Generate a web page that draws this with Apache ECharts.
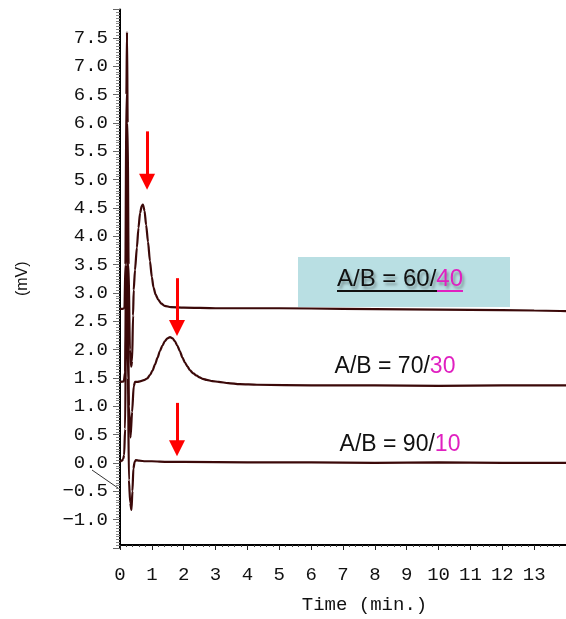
<!DOCTYPE html>
<html>
<head>
<meta charset="utf-8">
<script src="https://cdn.jsdelivr.net/npm/echarts@6/dist/echarts.min.js"></script>
<style>
html,body{margin:0;padding:0;background:#fff;}
#chart{width:566px;height:619px;}
</style>
</head>
<body>
<div id="chart"></div>
<script>
// ---- Data (time in min, signal in mV) ----
var tTop = [0, 0.08, 0.14, 0.17, 0.20, 0.22, 0.24, 0.27, 0.31, 0.35, 0.38, 0.41, 0.43, 0.47, 0.53, 0.58, 0.63, 0.68, 0.72, 0.77, 0.82, 0.88, 0.94, 1.00, 1.05, 1.12, 1.20, 1.30, 1.40, 1.60, 2.0, 3.0, 5.0, 7.0, 9.0, 11.0, 13.0, 14.0];
var vTop = [2.72, 2.72, 2.73, 3.5, 6.5, 7.6, 6.0, 3.5, 2.0, 1.7, 1.8, 2.6, 3.05, 3.4, 3.8, 4.15, 4.41, 4.53, 4.56, 4.45, 4.2, 3.9, 3.56, 3.28, 3.1, 2.97, 2.88, 2.81, 2.77, 2.75, 2.74, 2.73, 2.73, 2.72, 2.71, 2.70, 2.69, 2.68];

var tMid = [0, 0.12, 0.16, 0.19, 0.22, 0.25, 0.28, 0.33, 0.38, 0.43, 0.47, 0.55, 0.63, 0.75, 0.85, 0.94, 1.02, 1.10, 1.18, 1.25, 1.33, 1.41, 1.49, 1.57, 1.65, 1.72, 1.80, 1.88, 1.96, 2.04, 2.12, 2.19, 2.30, 2.41, 2.50, 2.60, 2.72, 2.90, 3.10, 3.40, 3.76, 4.3, 6.0, 8.0, 10.0, 12.0, 14.0];
var vMid = [1.43, 1.44, 1.6, 3.5, 5.2, 3.0, 1.0, 0.45, 0.9, 1.35, 1.43, 1.43, 1.44, 1.46, 1.49, 1.55, 1.63, 1.74, 1.86, 1.97, 2.07, 2.15, 2.20, 2.22, 2.20, 2.15, 2.07, 1.97, 1.86, 1.77, 1.70, 1.64, 1.58, 1.54, 1.51, 1.485, 1.465, 1.445, 1.43, 1.41, 1.39, 1.38, 1.37, 1.37, 1.36, 1.37, 1.37];

var tBot = [0, 0.06, 0.10, 0.13, 0.16, 0.19, 0.22, 0.25, 0.28, 0.32, 0.36, 0.39, 0.42, 0.46, 0.50, 0.60, 0.80, 1.0, 1.5, 2.0, 4.0, 6.0, 8.0, 10.0, 12.0, 14.0];
var vBot = [0.02, 0.04, 0.07, 0.14, 0.6, 2.5, 3.4, 1.5, -0.3, -0.7, -0.83, -0.5, -0.1, 0.02, 0.05, 0.04, 0.03, 0.03, 0.02, 0.02, 0.01, 0.01, 0.0, 0.01, 0.0, 0.0];

// Red arrows: [time, fromValue, toValue]
var arrowT = [0.85, 1.79, 1.79];
var arrowFrom = [5.85, 3.26, 1.06];
var arrowTo = [4.96, 2.38, 0.26];

var xTickLabels = ['0','1','2','3','4','5','6','7','8','9','10','11','12','13'];

function zip(t, v) { return t.map(function (x, i) { return [x, v[i]]; }); }

var chart = echarts.init(document.getElementById('chart'));
var lineColor = '#3b0909';
var mono = '"Liberation Mono", "DejaVu Sans Mono", monospace';
var sans = '"Liberation Sans", Arial, sans-serif';

function traceSeries(name, data) {
  return {
    name: name, type: 'line', data: data, showSymbol: false, symbol: 'none',
    smooth: 0.25, smoothMonotone: 'x', silent: true, animation: false,
    lineStyle: { color: lineColor, width: 2.2 }
  };
}

var arrowData = arrowT.map(function (t, i) {
  return [{ coord: [t, arrowFrom[i]] }, { coord: [t, arrowTo[i]] }];
});

var option = {
  animation: false,
  backgroundColor: '#ffffff',
  grid: { left: 120, right: -1, top: 9.5, bottom: 68 },
  xAxis: {
    type: 'value', min: 0, max: 14, interval: 1, offset: -3,
    name: 'Time (min.)', nameLocation: 'middle', nameGap: 50,
    nameTextStyle: { fontFamily: mono, fontSize: 19, color: '#111', padding: [0, 0, 0, 43] },
    axisLine: { show: true, onZero: false, lineStyle: { color: '#000', width: 2 } },
    axisTick: { show: true, inside: false, length: 5, lineStyle: { color: '#222', width: 1 } },
    minorTick: { show: true, splitNumber: 5, length: 2, lineStyle: { color: '#444', width: 1 } },
    splitLine: { show: false },
    axisLabel: {
      margin: 20, fontFamily: mono, fontSize: 19, color: '#111', showMaxLabel: false,
      formatter: function (v) { var i = Math.round(v); return xTickLabels[i] !== undefined ? xTickLabels[i] : ''; }
    }
  },
  yAxis: {
    type: 'value', min: -1.5, max: 8, interval: 0.5,
    name: '(mV)', nameLocation: 'middle', nameGap: 89, nameRotate: 90,
    nameTextStyle: { fontFamily: sans, fontSize: 16, color: '#111' },
    axisLine: { show: true, onZero: false, lineStyle: { color: '#000', width: 2 } },
    axisTick: { show: true, inside: false, length: 7, lineStyle: { color: '#666', width: 1 } },
    minorTick: { show: true, splitNumber: 10, length: 4, lineStyle: { color: '#888', width: 1 } },
    splitLine: { show: false },
    axisLabel: {
      margin: 12, fontFamily: mono, fontSize: 19, color: '#111',
      showMinLabel: false, showMaxLabel: false,
      formatter: function (v) { return (v < 0 ? '\u2212' : '') + Math.abs(v).toFixed(1); }
    }
  },
  series: [
    traceSeries('A/B = 90/10', zip(tBot, vBot)),
    traceSeries('A/B = 70/30', zip(tMid, vMid)),
    traceSeries('A/B = 60/40', zip(tTop, vTop)),
    {
      name: 'arrows', type: 'line', data: [], silent: true,
      markLine: {
        silent: true, animation: false,
        symbol: ['none', 'triangle'], symbolSize: [16, 16],
        label: { show: false },
        lineStyle: { color: '#ff0000', width: 3, type: 'solid' },
        emphasis: { disabled: true },
        data: arrowData
      }
    }
  ],
  graphic: [
    { type: 'rect', z: 0, silent: true, shape: { x: 298, y: 257, width: 212, height: 50 }, style: { fill: '#b9dfe3' } },
    { type: 'text', z: 10, silent: true, x: 400, y: 279,
      style: {
        text: '{a|A/B = 60/}{b|40}', align: 'center', verticalAlign: 'middle',
        rich: {
          a: { fontFamily: sans, fontSize: 24, fill: '#111', textShadowColor: 'rgba(0,0,0,0.35)', textShadowBlur: 3, textShadowOffsetX: 2, textShadowOffsetY: 3 },
          b: { fontFamily: sans, fontSize: 24, fill: '#e020c0', textShadowColor: 'rgba(0,0,0,0.35)', textShadowBlur: 3, textShadowOffsetX: 2, textShadowOffsetY: 3 }
        }
      }
    },
    { type: 'line', z: 10, silent: true, shape: { x1: 337, y1: 291, x2: 437, y2: 291 }, style: { stroke: '#111', lineWidth: 2 } },
    { type: 'line', z: 10, silent: true, shape: { x1: 437, y1: 291, x2: 463, y2: 291 }, style: { stroke: '#e020c0', lineWidth: 2 } },
    { type: 'text', z: 10, silent: true, x: 395, y: 367,
      style: {
        text: '{a|A/B = 70/}{b|30}', align: 'center', verticalAlign: 'middle',
        rich: { a: { fontFamily: sans, fontSize: 23, fill: '#111' }, b: { fontFamily: sans, fontSize: 23, fill: '#e020c0' } }
      }
    },
    { type: 'text', z: 10, silent: true, x: 400, y: 445,
      style: {
        text: '{a|A/B = 90/}{b|10}', align: 'center', verticalAlign: 'middle',
        rich: { a: { fontFamily: sans, fontSize: 23, fill: '#111' }, b: { fontFamily: sans, fontSize: 23, fill: '#e020c0' } }
      }
    },
    { type: 'line', z: 10, silent: true, shape: { x1: 92, y1: 470, x2: 118, y2: 488 }, style: { stroke: '#333', lineWidth: 1 } }
  ]
};
chart.setOption(option);
</script>
</body>
</html>
